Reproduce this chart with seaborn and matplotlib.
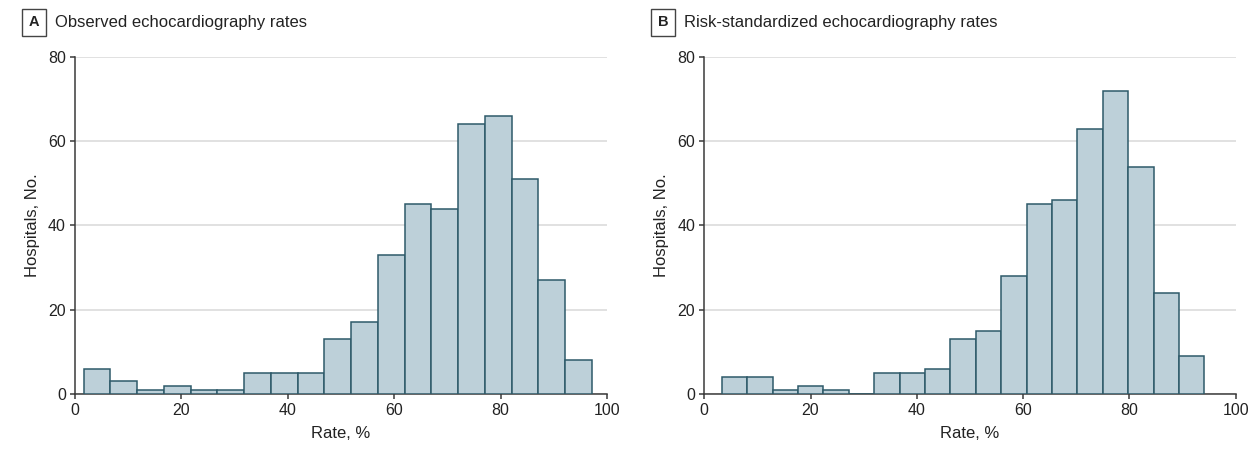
import numpy as np
import pandas as pd
import matplotlib
matplotlib.use('Agg')
import matplotlib.pyplot as plt
import seaborn as sns

# ====================
# Data
# ====================

obs_start, obs_width = 1.6, 5.03
obs_counts = [6, 3, 1, 2, 1, 1, 5, 5, 5, 13, 17, 33, 45, 44, 64, 66, 51, 27, 8]

rs_start, rs_width = 3.3, 4.78
rs_counts = [4, 4, 1, 2, 1, 0, 5, 5, 6, 13, 15, 28, 45, 46, 63, 72, 54, 24, 9]

panel_letters = ['A', 'B']
panel_titles = ['Observed echocardiography rates', 'Risk-standardized echocardiography rates']
x_ticks = [0, 20, 40, 60, 80, 100]
y_ticks = [0, 20, 40, 60, 80]

# ====================
# Plotting
# ====================

sns.set_style('white')
plt.rcParams['font.family'] = ['Liberation Sans', 'DejaVu Sans']

fill = '#bdd0d9'
edge = '#2e5a69'
axis_col = '#3a3a3a'
text_col = '#222222'

fig = plt.figure(figsize=(12.54, 4.61), dpi=100)
ax1 = fig.add_axes([0.0598, 0.1453, 0.4242, 0.7311])
ax2 = fig.add_axes([0.5616, 0.1453, 0.4238, 0.7311])

panels = [(ax1, obs_start, obs_width, obs_counts), (ax2, rs_start, rs_width, rs_counts)]
for ax, start, width, counts in panels:
    n = len(counts)
    edges = start + width * np.arange(n + 1)
    df = pd.DataFrame({'rate': (edges[:-1] + edges[1:]) / 2, 'n': counts})
    sns.histplot(data=df, x='rate', weights='n', bins=list(edges), ax=ax,
                 color=fill, edgecolor=edge, linewidth=1.1, alpha=1, zorder=3)
    ax.set_xlim(0, 100)
    ax.set_ylim(0, 80)
    ax.set_xticks(x_ticks)
    ax.set_yticks(y_ticks)
    ax.yaxis.grid(True, color='#dcdcdc', linewidth=1.2, zorder=0)
    ax.set_axisbelow(True)
    sns.despine(ax=ax)
    for s in ['left', 'bottom']:
        ax.spines[s].set_color(axis_col)
        ax.spines[s].set_linewidth(1.1)
    ax.tick_params(axis='both', direction='out', length=3.5, width=1.1, color=axis_col,
                   labelsize=11.5, labelcolor=text_col, pad=3, bottom=True, left=True)
    ax.set_xlabel('Rate, %', fontsize=12, color=text_col, labelpad=6)
    ax.set_ylabel('Hospitals, No.', fontsize=12, color=text_col, labelpad=6)

# panel titles with boxed letters
for ax, letter, title in zip([ax1, ax2], panel_letters, panel_titles):
    x0 = ax.get_position().x0
    fig.text(x0 - 41 / 1254, 0.952, letter, fontsize=10.5, fontweight='bold', color=text_col,
             ha='center', va='center',
             bbox=dict(boxstyle='square,pad=0.45', facecolor='white', edgecolor='#444444', linewidth=1))
    fig.text(x0 - 20 / 1254, 0.952, title, fontsize=12, color=text_col, ha='left', va='center')

fig.savefig('out.png', dpi=100)
